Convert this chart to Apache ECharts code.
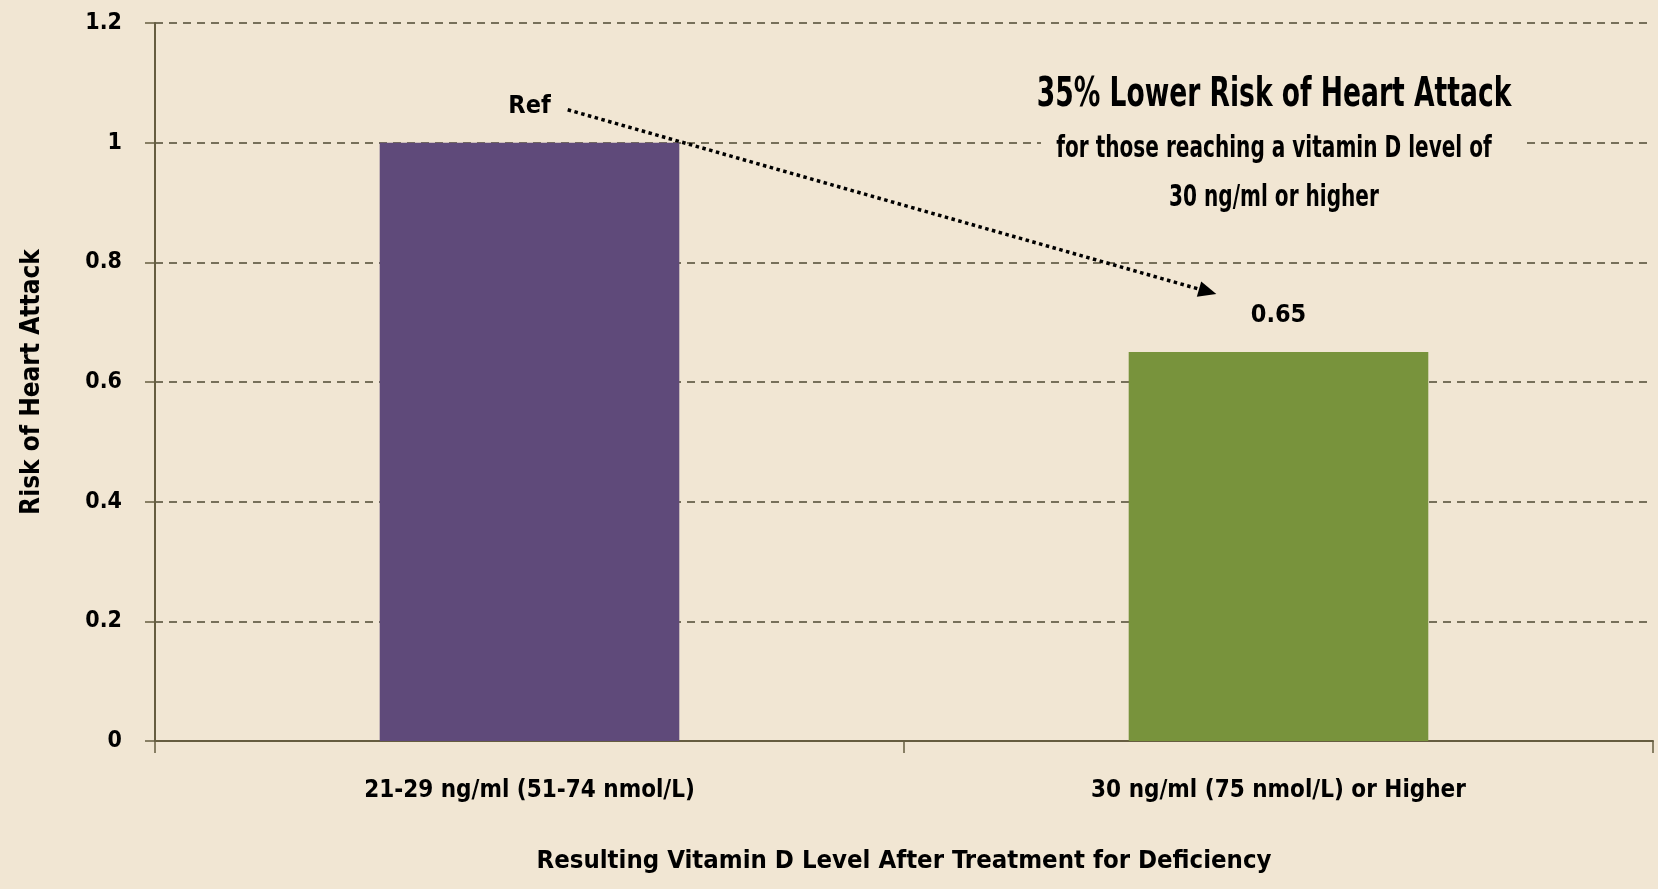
<!DOCTYPE html>
<html>
<head>
<meta charset="utf-8">
<script src="https://cdn.jsdelivr.net/npm/echarts@6/dist/echarts.min.js"></script>
<style>
  html, body { margin: 0; padding: 0; background: #f1e6d3; }
  #chart { width: 1658px; height: 889px; }
</style>
</head>
<body>
<div id="chart"></div>
<script>
const categories = ['21-29 ng/ml (51-74 nmol/L)', '30 ng/ml (75 nmol/L) or Higher'];
const riskValues = [1, 0.65];
const barLabels = ['Ref', '0.65'];
const barColors = ['#5f4a7a', '#78933c'];
const yMin = 0, yMax = 1.2, yInterval = 0.2;
// arrow ends: [position in category units (0 = first category centre), value]
const arrowStart = [0.051, 1.055];
const arrowEnd = [0.917, 0.747];
const titleLines = ['35% Lower Risk of Heart Attack', 'for those reaching a vitamin D level of', '30 ng/ml or higher'];

const FONT = "'Liberation Sans Narrow', 'DejaVu Sans Condensed', sans-serif";
const BG = '#f1e6d3';
const AXIS = '#665d40';

const chart = echarts.init(document.getElementById('chart'));
chart.setOption({
  backgroundColor: BG,
  animation: false,
  grid: { left: 155, right: 5, top: 23, bottom: 148 },
  xAxis: {
    type: 'category',
    data: categories,
    axisLine: { lineStyle: { color: AXIS, width: 2 } },
    axisTick: { show: true, length: 12, lineStyle: { color: AXIS, width: 1.5 } },
    axisLabel: { color: '#000', fontFamily: FONT, fontWeight: 'bold', fontSize: 24, margin: 38 },
    name: 'Resulting Vitamin D Level After Treatment for Deficiency',
    nameLocation: 'middle',
    nameGap: 107,
    nameTextStyle: { color: '#000', fontFamily: FONT, fontWeight: 'bold', fontSize: 25.5 }
  },
  yAxis: {
    type: 'value',
    min: yMin, max: yMax, interval: yInterval,
    axisLine: { show: true, onZero: false, lineStyle: { color: AXIS, width: 2 } },
    axisTick: { show: true, length: 10, lineStyle: { color: AXIS, width: 1.5 } },
    splitLine: { show: true, lineStyle: { color: '#4f4a33', type: [8, 6], width: 1.5 } },
    axisLabel: {
      color: '#000', fontFamily: FONT, fontWeight: 'bold', fontSize: 23, margin: 33,
      formatter: v => String(Math.round(v * 10) / 10)
    },
    name: 'Risk of Heart Attack',
    nameLocation: 'middle',
    nameGap: 110,
    nameTextStyle: { color: '#000', fontFamily: FONT, fontWeight: 'bold', fontSize: 26 }
  },
  series: [{
    type: 'bar',
    data: riskValues.map((v, i) => ({ value: v, itemStyle: { color: barColors[i] } })),
    barWidth: '40%',
    label: {
      show: true, position: 'top', distance: 24,
      color: '#000', fontFamily: FONT, fontWeight: 'bold', fontSize: 25,
      formatter: p => barLabels[p.dataIndex]
    }
  }]
});

// annotation arrow, positioned through the chart's own axes
const c0 = chart.convertToPixel({ gridIndex: 0 }, [0, arrowStart[1]]);
const c1 = chart.convertToPixel({ gridIndex: 0 }, [1, arrowStart[1]]);
const band = c1[0] - c0[0];
const toPx = pt => [c0[0] + pt[0] * band, chart.convertToPixel({ gridIndex: 0 }, [0, pt[1]])[1]];
const p0 = toPx(arrowStart);
const p1 = toPx(arrowEnd);
const ang = Math.atan2(p1[1] - p0[1], p1[0] - p0[0]);
const headLen = 18, headHalf = 8;
const bx = p1[0] - headLen * Math.cos(ang), by = p1[1] - headLen * Math.sin(ang);
const nx = -Math.sin(ang), ny = Math.cos(ang);

const txt = (t, y, size) => ({
  type: 'text', x: 1274, y: y, scaleX: 0.72,
  style: { text: t, fill: '#000', font: 'bold ' + size + 'px ' + FONT, textAlign: 'center', textVerticalAlign: 'middle' }
});

chart.setOption({
  graphic: [
    { type: 'line', shape: { x1: p0[0], y1: p0[1], x2: bx, y2: by },
      style: { stroke: '#000', lineWidth: 3.5, lineDash: [3.5, 3.5] } },
    { type: 'polygon', shape: { points: [[p1[0], p1[1]], [bx + nx * headHalf, by + ny * headHalf], [bx - nx * headHalf, by - ny * headHalf]] },
      style: { fill: '#000' } },
    { type: 'rect', shape: { x: 1041, y: 62, width: 482, height: 160 }, style: { fill: BG } },
    txt(titleLines[0], 95, 41),
    txt(titleLines[1], 149, 31),
    txt(titleLines[2], 198, 31)
  ]
});
</script>
</body>
</html>
